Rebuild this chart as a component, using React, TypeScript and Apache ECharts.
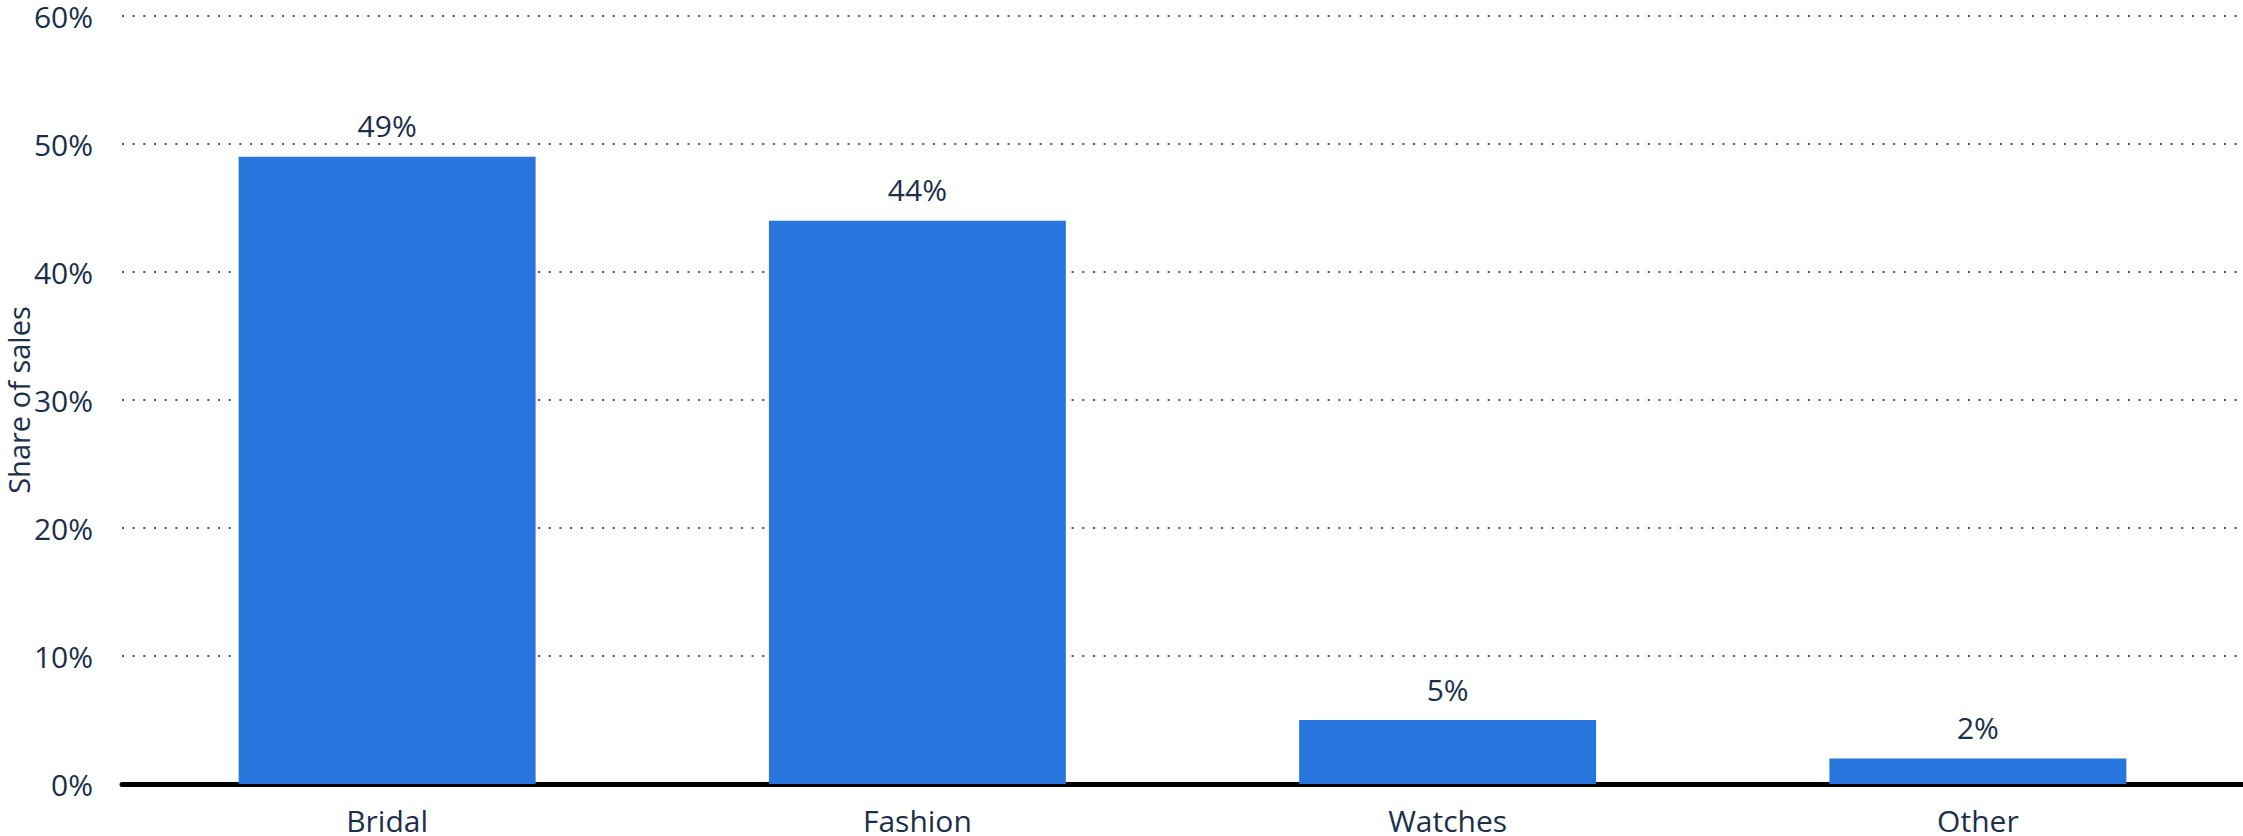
import React, { useEffect, useRef } from "react";
import * as echarts from "echarts";

const categories = ["Bridal", "Fashion", "Watches", "Other"];
const shares = [49, 44, 5, 2];
const yTicks = { min: 0, max: 60, interval: 10 };
const yAxisName = "Share of sales";

export default function App() {
  const ref = useRef<HTMLDivElement>(null);
  useEffect(() => {
    if (!ref.current) return;
    const chart = echarts.init(ref.current, undefined, { renderer: "svg" });
    const textColor = "#1b2f4b";
    const font = "'Open Sans', 'Noto Sans', sans-serif";
    chart.setOption({
      animation: false,
      backgroundColor: "#ffffff",
      grid: {
        left: 122,
        right: 0,
        top: 16,
        bottom: 52,
        containLabel: false,
        outerBoundsMode: "none",
      },
      xAxis: {
        type: "category",
        data: categories,
        axisLine: { show: true, lineStyle: { color: "#000000", width: 5 } },
        axisTick: { show: false },
        axisLabel: { color: textColor, fontSize: 30, fontFamily: font, margin: 21 },
      },
      yAxis: {
        type: "value",
        min: yTicks.min,
        max: yTicks.max,
        interval: yTicks.interval,
        name: yAxisName,
        nameLocation: "middle",
        nameGap: 89,
        nameMoveOverlap: false,
        nameTextStyle: {
          color: textColor,
          fontSize: 29,
          fontFamily: font,
        },
        axisLine: { show: false },
        axisTick: { show: false },
        axisLabel: {
          color: textColor,
          fontSize: 30,
          fontFamily: font,
          margin: 29,
          formatter: "{value}%",
        },
        splitLine: {
          show: true,
          lineStyle: { color: "#555555", width: 2, type: [2, 8.67] },
        },
      },
      series: [
        {
          type: "bar",
          data: shares,
          barWidth: "56%",
          itemStyle: { color: "#2876dd" },
          label: {
            show: true,
            position: "top",
            distance: 16,
            color: textColor,
            fontSize: 30,
            fontFamily: font,
            formatter: "{c}%",
          },
        },
      ],
    });
    return () => chart.dispose();
  }, []);
  return (
    <div
      ref={ref}
      style={{ position: "absolute", left: 0, top: 0, width: 2243, height: 836 }}
    />
  );
}
